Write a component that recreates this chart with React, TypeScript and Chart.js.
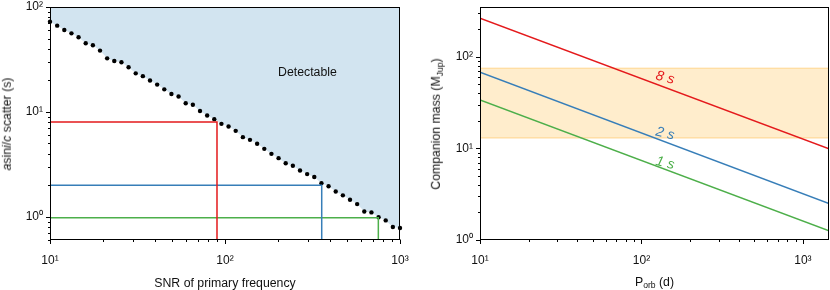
import React, { useEffect, useRef } from 'react';
import { Chart, registerables } from 'chart.js';

Chart.register(...registerables);

const FONT = '"Liberation Sans", Arial, Helvetica, sans-serif';
const TEXT = '#111';

// ---------- Left panel data ----------
const snrValues = [10, 10.99, 12.07, 13.26, 14.56, 16.0, 17.58, 19.31, 21.21, 23.3, 25.6, 28.12, 30.89, 33.93, 37.28, 40.95, 44.98, 49.42, 54.29, 59.64, 65.51, 71.97, 79.06, 86.85, 95.41, 104.8, 115.1, 126.5, 138.9, 152.6, 167.7, 184.2, 202.4, 222.3, 244.2, 268.3, 294.7, 323.7, 355.6, 390.7, 429.2, 471.5, 518.0, 569.0, 625.1, 686.7, 754.3, 828.6, 910.3, 1000];
const scatterValues = [72.5, 66.4, 60.4, 56.1, 51.4, 45.1, 43.2, 38.4, 32.4, 30.6, 29.7, 26.6, 23.3, 21.9, 19.9, 18.2, 16.4, 14.8, 14.0, 12.1, 11.7, 10.2, 9.23, 8.52, 7.69, 7.25, 6.59, 5.74, 5.41, 4.96, 4.44, 3.98, 3.62, 3.24, 3.06, 2.76, 2.55, 2.39, 2.09, 1.95, 1.74, 1.6, 1.45, 1.32, 1.12, 1.1, 0.99, 0.923, 0.797, 0.78];
const limitLabels = ['8 s', '2 s', '1 s'];
const limitColors = ['#e41a1c', '#377eb8', '#4daf4a'];
const limitScatter = [8, 2, 0.98];
const limitSNR = [90, 357, 752];
const leftXRange = [10, 1000];
const leftYRange = [0.6, 100];
const leftXTicks = [10, 20, 30, 40, 50, 60, 70, 80, 90, 100, 200, 300, 400, 500, 600, 700, 800, 900, 1000];
const leftYTicks = [0.6, 0.7, 0.8, 0.9, 1, 2, 3, 4, 5, 6, 7, 8, 9, 10, 20, 30, 40, 50, 60, 70, 80, 90, 100];
const detectableLabel = 'Detectable';
const detectablePos = [296, 23.5];

// ---------- Right panel data ----------
const periodRange = [10, 1450];
const massRange = [1, 350];
const massLines = [
  [264, 9.9],
  [68, 2.5],
  [33.8, 1.26],
];
const bandLimits = [13, 75];
const labelPeriod = 140;
const labelMass = [59, 14.5, 6.9];
const rightXTicks = [10, 20, 30, 40, 50, 60, 70, 80, 90, 100, 200, 300, 400, 500, 600, 700, 800, 900, 1000];
const rightYTicks = [1, 2, 3, 4, 5, 6, 7, 8, 9, 10, 20, 30, 40, 50, 60, 70, 80, 90, 100, 200, 300];

const SUP: Record<string, string> = { '0': '\u2070', '1': '\u00b9', '2': '\u00b2', '3': '\u00b3', '-': '\u207b' };
function decadeLabel(v: number): string {
  const l = Math.log10(v);
  const r = Math.round(l);
  if (Math.abs(l - r) > 1e-6) return '';
  return '10' + String(r).split('').map((c) => SUP[c] || c).join('');
}

function logAxis(range: number[], ticks: number[], horizontal: boolean, size: number, pad: number) {
  return {
    type: 'logarithmic',
    min: range[0],
    max: range[1],
    grid: { display: false, drawTicks: false },
    border: { display: false },
    ticks: {
      autoSkip: false,
      maxRotation: 0,
      minRotation: 0,
      color: TEXT,
      padding: pad,
      font: { family: FONT, size: 12 },
      callback: (v: any) => decadeLabel(Number(v)),
    },
    afterBuildTicks: (s: any) => {
      s.ticks = ticks.map((v) => ({ value: v }));
    },
    afterFit: (s: any) => {
      if (horizontal) s.height = size;
      else s.width = size;
      s.paddingLeft = 0;
      s.paddingRight = 0;
      s.paddingTop = 0;
      s.paddingBottom = 0;
    },
  };
}

const axisDecor = {
  id: 'axisDecor',
  afterDraw(chart: any) {
    const { ctx, chartArea: a, scales } = chart;
    const xs = scales.x;
    const ys = scales.y;
    ctx.save();
    ctx.strokeStyle = '#000';
    ctx.lineWidth = 1;
    const L = Math.round(a.left) + 0.5;
    const R = Math.round(a.right) - 0.5;
    const T = Math.round(a.top) + 0.5;
    const B = Math.round(a.bottom) - 0.5;
    xs.ticks.forEach((t: any) => {
      const px = Math.round(xs.getPixelForValue(t.value)) + 0.5;
      const len = decadeLabel(t.value) ? 4.5 : 2.5;
      ctx.beginPath();
      ctx.moveTo(px, B);
      ctx.lineTo(px, B + len);
      ctx.stroke();
    });
    ys.ticks.forEach((t: any) => {
      const py = Math.round(ys.getPixelForValue(t.value)) + 0.5;
      const len = decadeLabel(t.value) ? 4.5 : 2.5;
      ctx.beginPath();
      ctx.moveTo(L, py);
      ctx.lineTo(L - len, py);
      ctx.stroke();
    });
    ctx.strokeRect(L, T, R - L, B - T);
    ctx.restore();
  },
};

function textPlugin(items: { text: string; x: number; y: number; color: string; italic: boolean; rot: number; size: number }[]) {
  return {
    id: 'textNotes',
    afterDatasetsDraw(chart: any) {
      const { ctx, scales } = chart;
      ctx.save();
      items.forEach((it) => {
        const px = scales.x.getPixelForValue(it.x);
        const py = scales.y.getPixelForValue(it.y);
        ctx.save();
        ctx.translate(px, py);
        ctx.rotate((it.rot * Math.PI) / 180);
        ctx.font = `${it.italic ? 'italic ' : ''}${it.size}px "Liberation Sans", Arial, sans-serif`;
        ctx.fillStyle = it.color;
        ctx.textAlign = 'center';
        ctx.textBaseline = 'middle';
        ctx.fillText(it.text, 0, 0);
        ctx.restore();
      });
      ctx.restore();
    },
  };
}

const baseOptions = {
  responsive: false,
  maintainAspectRatio: false,
  animation: false,
  devicePixelRatio: 1,
  events: [],
  plugins: { legend: { display: false }, tooltip: { enabled: false } },
};

function buildLeft(canvas: HTMLCanvasElement) {
  const datasets: any[] = limitSNR.map((snr, i) => ({
    data: [
      { x: leftXRange[0], y: limitScatter[i] },
      { x: snr, y: limitScatter[i] },
      { x: snr, y: leftYRange[0] },
    ],
    borderColor: limitColors[i],
    borderWidth: 1.5,
    pointRadius: 0,
    fill: false,
    tension: 0,
  }));
  const pts = snrValues.map((x, i) => ({ x, y: scatterValues[i] }));
  datasets.push({
    data: pts,
    showLine: false,
    pointRadius: 2.2,
    pointBackgroundColor: '#000',
    pointBorderWidth: 0,
    fill: false,
    clip: false,
  });
  datasets.push({
    data: pts,
    borderWidth: 0,
    borderColor: 'rgba(0,0,0,0)',
    pointRadius: 0,
    fill: 'end',
    backgroundColor: 'rgb(210,228,240)',
    tension: 0,
  });
  return new Chart(canvas, {
    type: 'line',
    data: { datasets },
    options: {
      ...baseOptions,
      layout: { padding: { left: 0, right: 15, top: 7, bottom: 0 } },
      scales: {
        x: logAxis(leftXRange, leftXTicks, true, 50, 13),
        y: logAxis(leftYRange, leftYTicks, false, 50, 7),
      },
    } as any,
    plugins: [
      axisDecor,
      textPlugin([{ text: detectableLabel, x: detectablePos[0], y: detectablePos[1], color: TEXT, italic: false, rot: 0, size: 12.3 }]),
    ],
  });
}

function buildRight(canvas: HTMLCanvasElement) {
  const datasets: any[] = massLines.map((m, i) => ({
    data: [
      { x: periodRange[0], y: m[0] },
      { x: periodRange[1], y: m[1] },
    ],
    borderColor: limitColors[i],
    borderWidth: 1.5,
    pointRadius: 0,
    fill: false,
    tension: 0,
  }));
  datasets.push({
    data: [
      { x: periodRange[0], y: bandLimits[1] },
      { x: periodRange[1], y: bandLimits[1] },
    ],
    borderColor: 'rgba(255,165,0,0.25)',
    borderWidth: 1.5,
    pointRadius: 0,
    fill: false,
  });
  datasets.push({
    data: [
      { x: periodRange[0], y: bandLimits[0] },
      { x: periodRange[1], y: bandLimits[0] },
    ],
    borderColor: 'rgba(255,165,0,0.25)',
    borderWidth: 1.5,
    pointRadius: 0,
    fill: '-1',
    backgroundColor: 'rgba(255,165,0,0.2)',
  });
  return new Chart(canvas, {
    type: 'line',
    data: { datasets },
    options: {
      ...baseOptions,
      layout: { padding: { left: 0, right: 1, top: 7, bottom: 0 } },
      scales: {
        x: logAxis(periodRange, rightXTicks, true, 50, 13),
        y: logAxis(massRange, rightYTicks, false, 65, 7),
      },
    } as any,
    plugins: [
      axisDecor,
      textPlugin(
        limitLabels.map((t, i) => ({ text: t, x: labelPeriod, y: labelMass[i], color: limitColors[i], italic: true, rot: 14, size: 14 }))
      ),
    ],
  });
}

function Label({ x, y, rot, children }: { x: number; y: number; rot?: boolean; children: any }) {
  return (
    <div style={{ position: 'absolute', left: x, top: y, width: 0, height: 0 }}>
      <span
        style={{
          position: 'absolute',
          left: 0,
          top: 0,
          whiteSpace: 'nowrap',
          lineHeight: 1,
          transform: `translate(-50%,-50%)${rot ? ' rotate(-90deg)' : ''}`,
        }}
      >
        {children}
      </span>
    </div>
  );
}

const subStyle = { fontSize: '0.7em', verticalAlign: '-0.3em', lineHeight: 0 } as const;

export default function App() {
  const leftRef = useRef<HTMLCanvasElement>(null);
  const rightRef = useRef<HTMLCanvasElement>(null);
  useEffect(() => {
    const c1 = buildLeft(leftRef.current as HTMLCanvasElement);
    const c2 = buildRight(rightRef.current as HTMLCanvasElement);
    return () => {
      c1.destroy();
      c2.destroy();
    };
  }, []);
  return (
    <div
      style={{
        position: 'absolute',
        left: 0,
        top: 0,
        width: 830,
        height: 290,
        background: '#fff',
        fontFamily: FONT,
        fontSize: 12.3,
        color: TEXT,
        overflow: 'hidden',
      }}
    >
      <canvas ref={leftRef} width={415} height={290} style={{ position: 'absolute', left: 0, top: 0, width: 415, height: 290 }} />
      <canvas ref={rightRef} width={415} height={290} style={{ position: 'absolute', left: 415, top: 0, width: 415, height: 290 }} />
      <Label x={7} y={123.5} rot>
        <i>a</i>sin<i>i</i>/<i>c</i> scatter (s)
      </Label>
      <Label x={225} y={282.5}>SNR of primary frequency</Label>
      <Label x={436} y={123.5} rot>
        Companion mass (M<span style={subStyle}>Jup</span>)
      </Label>
      <Label x={654.5} y={281.5}>
        P<span style={subStyle}>orb</span> (d)
      </Label>
    </div>
  );
}
